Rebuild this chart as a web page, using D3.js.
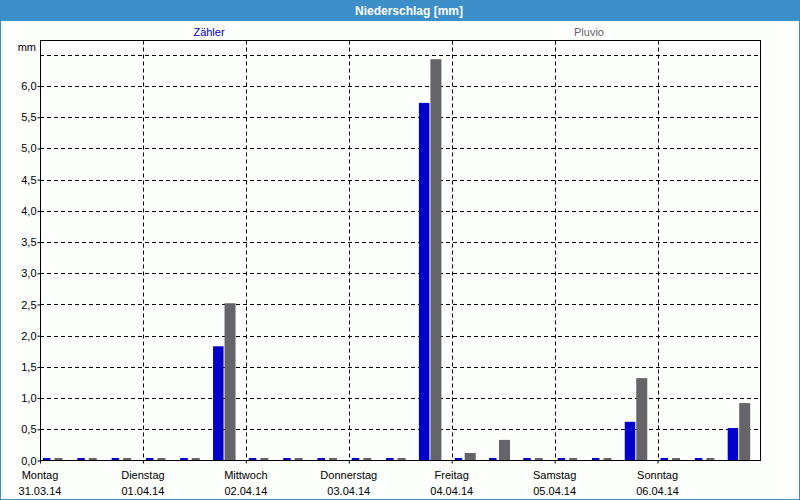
<!DOCTYPE html>
<html>
<head>
<meta charset="utf-8">
<script src="https://cdn.jsdelivr.net/npm/d3@7"></script>
<style>
  body { margin: 0; background: #fcfefc; }
  svg { display: block; }
  text { font-family: "Liberation Sans", Arial, sans-serif; font-size: 11px; }
</style>
</head>
<body>
<svg id="chart" width="800" height="500"></svg>
<script>
// 8-Stunden-Intervalle, 31.03.14 00:00 bis 07.04.14 00:00
var intervalStarts = d3.range(21).map(function (i) { return new Date(2014, 2, 31, i * 8); });
var zaehler = [0, 0, 0, 0, 0, 1.83, 0, 0, 0, 0, 0, 5.73, 0, 0, 0, 0, 0, 0.62, 0, 0, 0.52];
var pluvio  = [0, 0, 0, 0, 0, 2.52, 0, 0, 0, 0, 0, 6.43, 0.12, 0.33, 0, 0, 0, 1.32, 0, 0, 0.92];
var dayNames = ["Montag", "Dienstag", "Mittwoch", "Donnerstag", "Freitag", "Samstag", "Sonntag"];
var dayDates = ["31.03.14", "01.04.14", "02.04.14", "03.04.14", "04.04.14", "05.04.14", "06.04.14"];
var yTicks = [0, 0.5, 1, 1.5, 2, 2.5, 3, 3.5, 4, 4.5, 5, 5.5, 6];
var yGrid = [0.5, 1, 1.5, 2, 2.5, 3, 3.5, 4, 4.5, 5, 5.5, 6, 6.5];
var seriesNames = ["Zähler", "Pluvio"];
var seriesColors = ["#0000c8", "#666468"];

var svg = d3.select("#chart");
var pL = 40, pR = 760.5, pT = 40.5, pB = 460.5;

var x = d3.scaleTime()
    .domain([new Date(2014, 2, 31), new Date(2014, 3, 7)])
    .range([pL, pR]);
var y = d3.scaleLinear().domain([0, 6.73]).range([pB, pT]);
var days = d3.range(7).map(function (i) { return new Date(2014, 2, 31 + i); });
var fmt = d3.format(".1f");

// Rahmen und Titelleiste
svg.append("rect").attr("x", 0.5).attr("y", 0).attr("width", 799).attr("height", 499.5)
    .attr("fill", "#fcfefc").attr("stroke", "#3c8fc8");
svg.append("rect").attr("x", 0).attr("y", 0).attr("width", 800).attr("height", 21)
    .attr("fill", "#3c8fc8");
svg.append("text").attr("x", 409).attr("y", 15).attr("text-anchor", "middle")
    .attr("fill", "white").style("font-weight", "bold").style("font-size", "12px")
    .text("Niederschlag [mm]");

// Legende
var legX = [209, 589];
seriesNames.forEach(function (n, i) {
    svg.append("text").attr("x", legX[i]).attr("y", 36).attr("text-anchor", "middle")
        .attr("fill", seriesColors[i]).text(n);
});

var g = svg.append("g");

// Gitter
g.selectAll("line.hgrid").data(yGrid).enter().append("line")
    .attr("x1", pL).attr("x2", pR)
    .attr("y1", function (d) { return Math.round(y(d)) + 0.5; })
    .attr("y2", function (d) { return Math.round(y(d)) + 0.5; })
    .attr("stroke", "black").attr("stroke-dasharray", "4,3");
g.selectAll("line.vgrid").data(days.slice(1)).enter().append("line")
    .attr("x1", function (d) { return Math.round(x(d)) + 0.5; })
    .attr("x2", function (d) { return Math.round(x(d)) + 0.5; })
    .attr("y1", pT).attr("y2", pB)
    .attr("stroke", "black").attr("stroke-dasharray", "4,3");

// Balken
function drawSeries(vals, color, off, w) {
    g.selectAll(null).data(vals).enter().append("rect")
        .attr("x", function (d, i) { return x(intervalStarts[i]) + off + (d > 0 ? 0 : 1.5); })
        .attr("width", function (d) { return d > 0 ? w : w - 3; })
        .attr("y", function (d) { return d > 0 ? y(d) : pB - 2.5; })
        .attr("height", function (d) { return d > 0 ? pB - y(d) : 2.5; })
        .attr("fill", color);
}
drawSeries(zaehler, seriesColors[0], 1.5, 10.5);
drawSeries(pluvio, seriesColors[1], 13, 11);

// Achsen
var yAxis = d3.axisLeft(y).tickValues(yTicks).tickSize(3).tickFormat(function (d) { return fmt(d).replace(".", ","); });
var ya = g.append("g").attr("transform", "translate(" + (pL + 0.5) + ",0)").call(yAxis);
ya.select(".domain").remove();
ya.selectAll("text").attr("x", -4).style("font-size", "11px").style("font-family", "Liberation Sans, Arial, sans-serif");

var xAxis = d3.axisBottom(x).tickValues(days).tickSize(3).tickFormat("");
var xa = g.append("g").attr("transform", "translate(0," + pB + ")").call(xAxis);
xa.select(".domain").remove();
days.forEach(function (d, i) {
    xa.append("text").attr("x", x(d)).attr("y", 18.5).attr("text-anchor", "middle")
        .attr("fill", "black").text(dayNames[i]);
    xa.append("text").attr("x", x(d)).attr("y", 34).attr("text-anchor", "middle")
        .attr("fill", "black").text(dayDates[i]);
});
xa.selectAll("text").style("font-size", "11px").style("font-family", "Liberation Sans, Arial, sans-serif");

svg.append("rect").attr("x", pL + 0.5).attr("y", pT).attr("width", pR - pL - 0.5).attr("height", pB - pT)
    .attr("fill", "none").attr("stroke", "black");

svg.append("text").attr("x", 36).attr("y", 51).attr("text-anchor", "end").text("mm");
</script>
</body>
</html>
